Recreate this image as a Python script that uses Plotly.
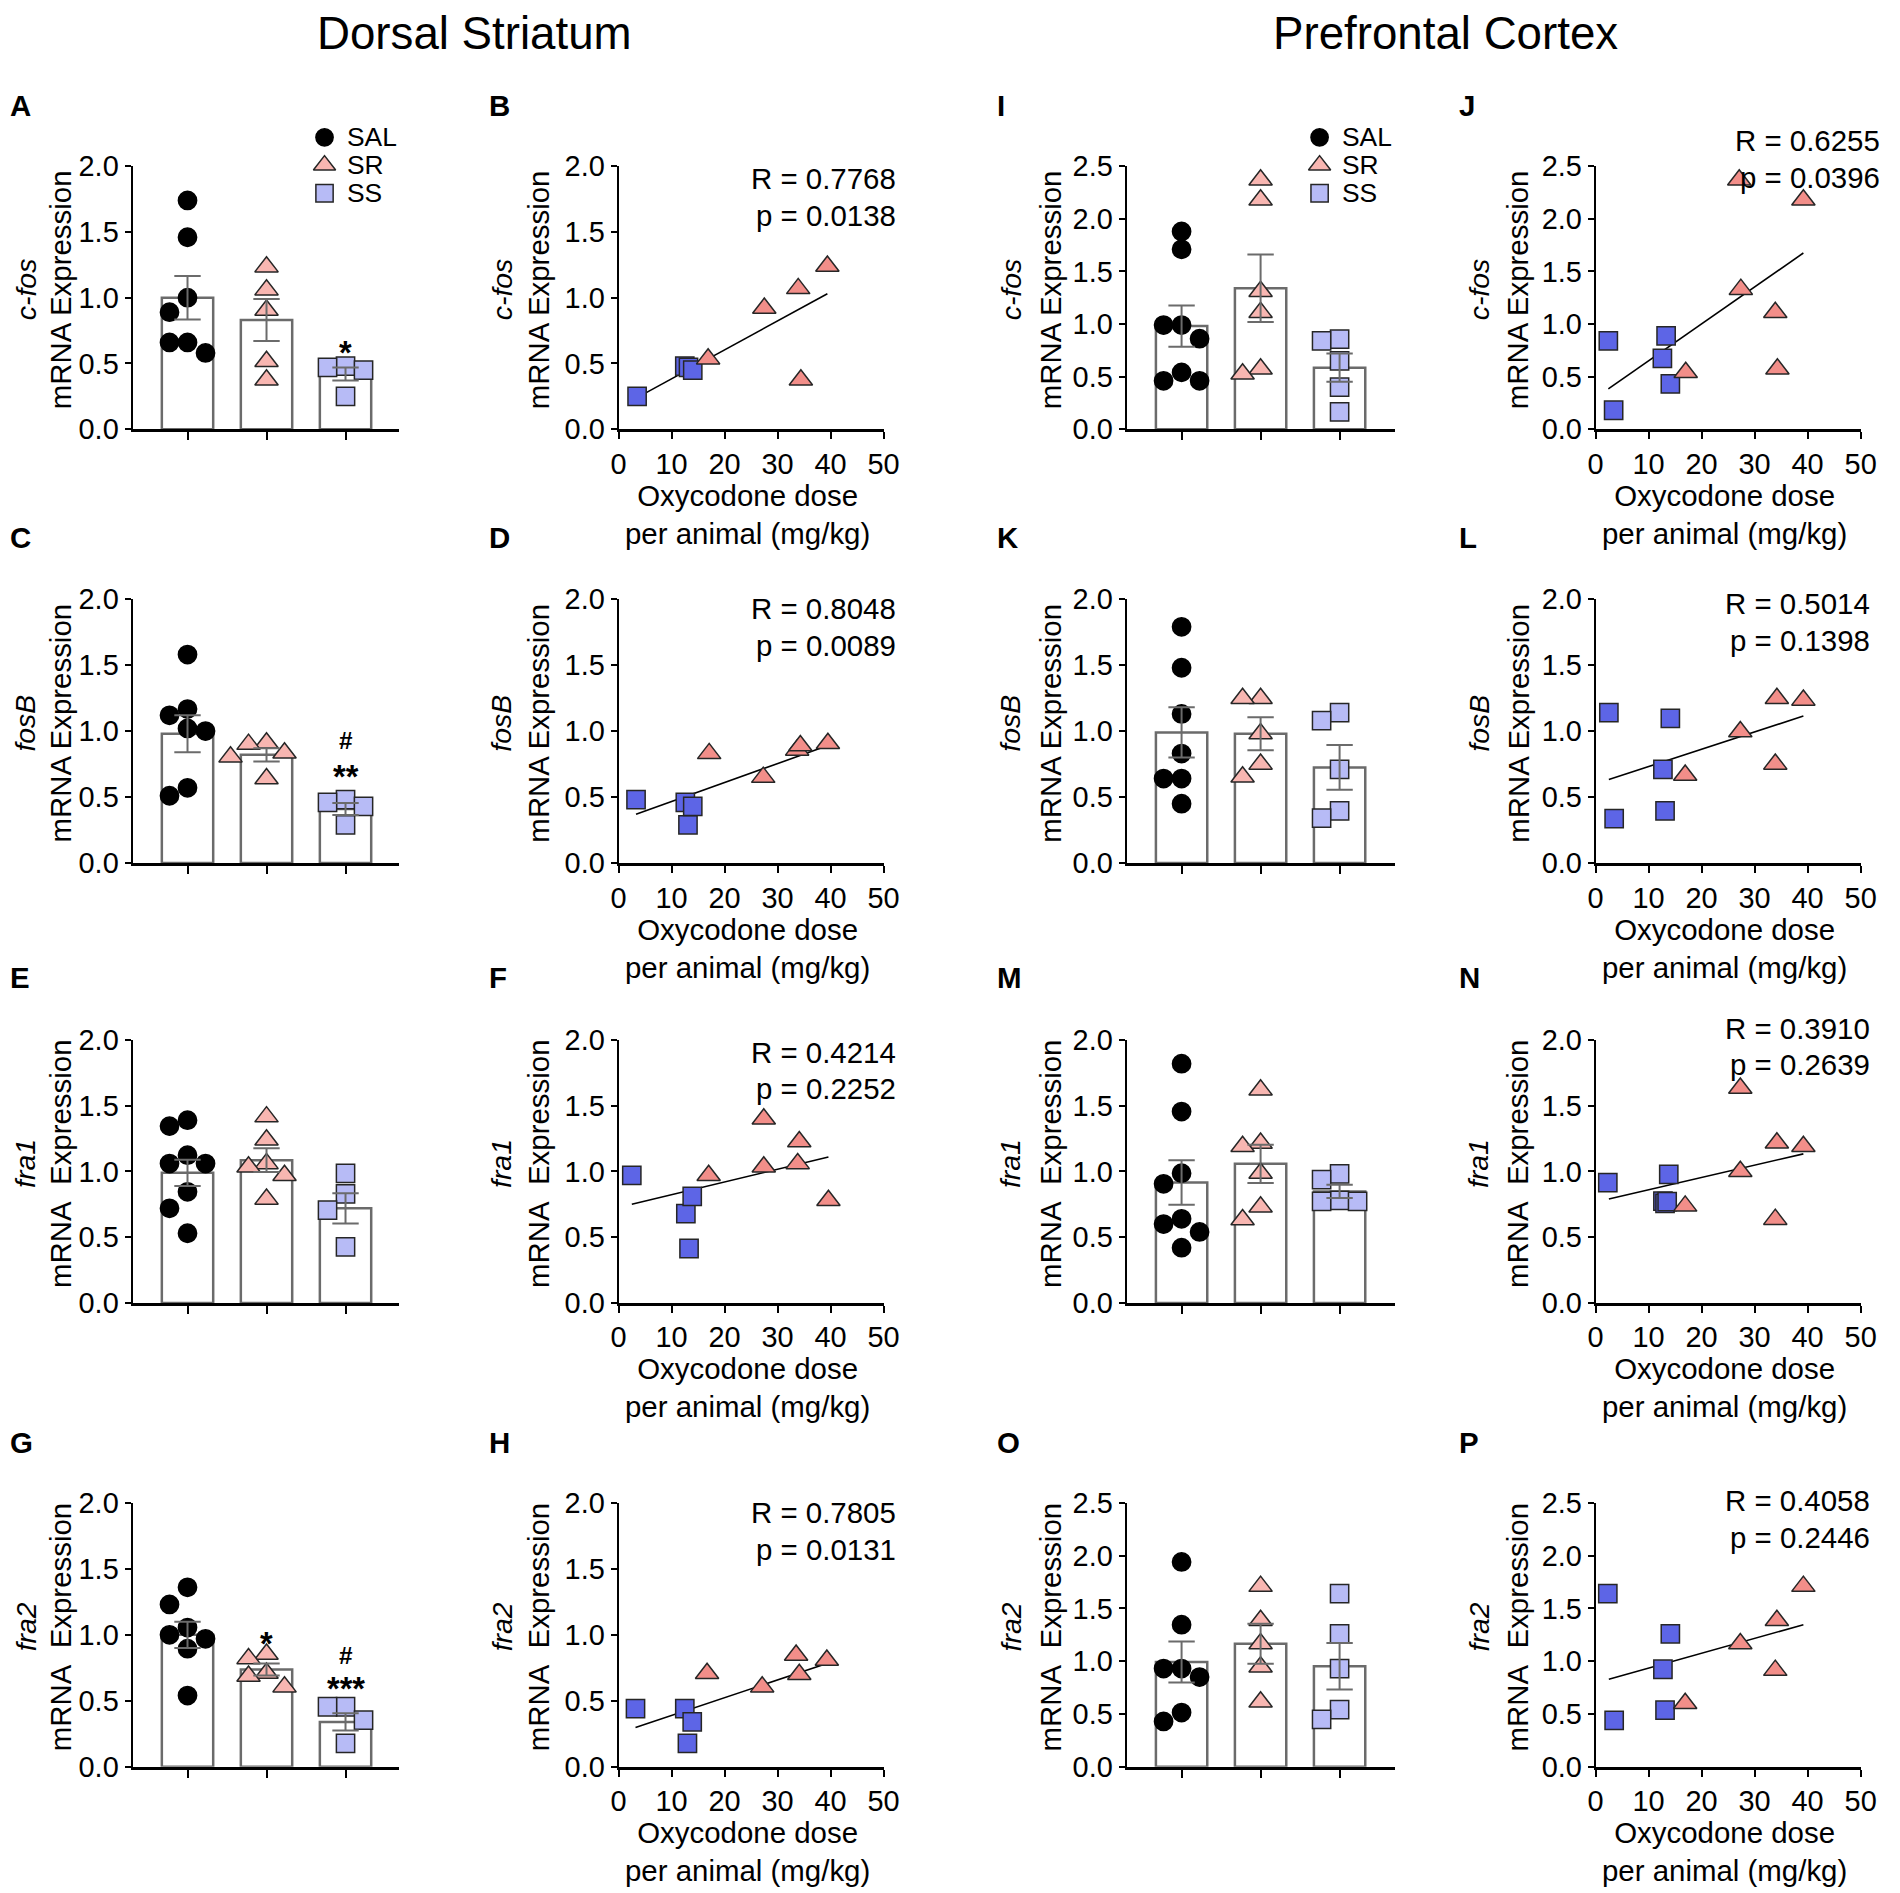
import plotly.graph_objects as go

W, H = 1900, 1893
FONT = "Liberation Sans, Arial, Helvetica, sans-serif"

# ------------------------------------------------------------------ DATA
groups = ["SAL", "SR", "SS"]
genes = ["c-fos", "fosB", "fra1", "fra2"]
region_titles = ["Dorsal Striatum", "Prefrontal Cortex"]
panel_letters = ["A", "B", "I", "J", "C", "D", "K", "L",
                 "E", "F", "M", "N", "G", "H", "O", "P"]
dose_ticks = [0, 10, 20, 30, 40, 50]

# ---- Dorsal striatum, group bars (A, C, E, G)
A_sal = [1.74, 1.46, 1.0, 0.89, 0.66, 0.66, 0.58]
A_sr = [1.235, 1.06, 0.905, 0.515, 0.375]
A_ss = [0.48, 0.47, 0.45, 0.25]
A_mean = [1.0, 0.83, 0.42]
A_sem = [0.165, 0.16, 0.05]

C_sal = [1.58, 1.167, 1.12, 1.02, 1.0, 0.57, 0.51]
C_sr = [0.91, 0.9, 0.835, 0.805, 0.64]
C_ss = [0.48, 0.46, 0.43, 0.29]
C_mean = [0.98, 0.82, 0.41]
C_sem = [0.14, 0.05, 0.045]

E_sal = [1.39, 1.345, 1.124, 1.06, 1.06, 0.845, 0.72, 0.53]
E_sr = [1.416, 1.24, 1.06, 1.035, 0.97, 0.79]
E_ss = [0.985, 0.83, 0.705, 0.426]
E_mean = [0.99, 1.086, 0.72]
E_sem = [0.1, 0.09, 0.115]

G_sal = [1.36, 1.23, 1.055, 1.0, 0.97, 0.895, 0.54]
G_sr = [0.854, 0.82, 0.71, 0.687, 0.606]
G_ss = [0.455, 0.455, 0.354, 0.177]
G_mean = [1.0, 0.737, 0.34]
G_sem = [0.1, 0.045, 0.065]

# ---- Prefrontal cortex, group bars (I, K, M, O)
I_sal = [1.88, 1.71, 0.99, 0.99, 0.86, 0.54, 0.46, 0.46]
I_sr = [2.37, 2.18, 1.31, 1.11, 0.573, 0.526]
I_ss = [0.856, 0.84, 0.65, 0.40, 0.164]
I_mean = [0.98, 1.34, 0.585]
I_sem = [0.195, 0.32, 0.135]

K_sal = [1.79, 1.48, 1.13, 0.83, 0.64, 0.64, 0.45]
K_sr = [1.248, 1.248, 0.98, 0.75, 0.653]
K_ss = [1.14, 1.08, 0.71, 0.395, 0.34]
K_mean = [0.99, 0.98, 0.725]
K_sem = [0.19, 0.125, 0.17]

M_sal = [1.82, 1.456, 0.987, 0.906, 0.64, 0.60, 0.54, 0.42]
M_sr = [1.62, 1.215, 1.19, 0.987, 0.73, 0.633]
M_ss = [0.982, 0.937, 0.78, 0.772, 0.772]
M_mean = [0.916, 1.058, 0.848]
M_sem = [0.17, 0.145, 0.05]

O_sal = [1.94, 1.346, 0.93, 0.93, 0.85, 0.514, 0.43]
O_sr = [1.71, 1.387, 1.166, 0.946, 0.615]
O_ss = [1.64, 1.26, 0.93, 0.542, 0.45]
O_mean = [0.993, 1.166, 0.952]
O_sem = [0.195, 0.19, 0.22]

# ---- Dose correlations, dorsal striatum (B, D, F, H)
B_ss_dose = [3.5, 12.5, 13.2, 14.0]
B_ss_expr = [0.25, 0.48, 0.47, 0.45]
B_sr_dose = [16.9, 27.5, 33.9, 34.4, 39.4]
B_sr_expr = [0.535, 0.92, 1.07, 0.375, 1.24]
B_fit_dose = [3.5, 39.4]
B_fit_expr = [0.24, 1.03]
B_stats = ["0.7768", "0.0138"]

D_ss_dose = [3.3, 12.6, 13.1, 14.0]
D_ss_expr = [0.48, 0.46, 0.29, 0.43]
D_sr_dose = [17.1, 27.3, 33.7, 34.3, 39.5]
D_sr_expr = [0.83, 0.65, 0.856, 0.89, 0.906]
D_fit_dose = [3.3, 39.5]
D_fit_expr = [0.37, 0.89]
D_stats = ["0.8048", "0.0089"]

F_ss_dose = [2.5, 12.7, 13.9, 13.3]
F_ss_expr = [0.97, 0.68, 0.81, 0.414]
F_sr_dose = [17.0, 27.4, 27.4, 34.1, 33.8, 39.6]
F_sr_expr = [0.97, 1.40, 1.035, 1.226, 1.06, 0.78]
F_fit_dose = [2.5, 39.6]
F_fit_expr = [0.75, 1.11]
F_stats = ["0.4214", "0.2252"]

H_ss_dose = [3.2, 12.5, 13.9, 13.0]
H_ss_expr = [0.44, 0.44, 0.34, 0.177]
H_sr_dose = [16.7, 27.1, 33.5, 34.1, 39.3]
H_sr_expr = [0.707, 0.606, 0.846, 0.70, 0.808]
H_fit_dose = [3.2, 39.3]
H_fit_expr = [0.298, 0.783]
H_stats = ["0.7805", "0.0131"]

# ---- Dose correlations, prefrontal cortex (J, L, N, P)
J_ss_dose = [2.4, 3.4, 12.6, 13.3, 14.1]
J_ss_expr = [0.84, 0.18, 0.674, 0.888, 0.43]
J_sr_dose = [17.0, 27.4, 27.1, 33.9, 34.3, 39.2]
J_sr_expr = [0.54, 1.33, 2.37, 1.11, 0.573, 2.18]
J_fit_dose = [2.4, 39.2]
J_fit_expr = [0.384, 1.675]
J_stats = ["0.6255", "0.0396"]

L_ss_dose = [2.5, 3.5, 12.7, 13.1, 14.1]
L_ss_expr = [1.14, 0.337, 0.71, 0.395, 1.096]
L_sr_dose = [16.9, 27.3, 34.2, 33.9, 39.2]
L_sr_expr = [0.666, 0.995, 1.248, 0.75, 1.235]
L_fit_dose = [2.5, 39.2]
L_fit_expr = [0.633, 1.114]
L_stats = ["0.5014", "0.1398"]

N_ss_dose = [2.3, 13.8, 12.7, 13.1, 13.5]
N_ss_expr = [0.915, 0.977, 0.775, 0.757, 0.77]
N_sr_dose = [16.9, 27.3, 27.3, 34.2, 33.9, 39.2]
N_sr_expr = [0.737, 1.634, 1.0, 1.217, 0.636, 1.19]
N_fit_dose = [2.5, 39.2]
N_fit_expr = [0.79, 1.134]
N_stats = ["0.3910", "0.2639"]

P_ss_dose = [2.3, 3.5, 12.7, 14.1, 13.1]
P_ss_expr = [1.64, 0.44, 0.924, 1.26, 0.536]
P_sr_dose = [16.9, 27.3, 34.2, 33.9, 39.2]
P_sr_expr = [0.6, 1.166, 1.387, 0.914, 1.71]
P_fit_dose = [2.5, 39.2]
P_fit_expr = [0.83, 1.346]
P_stats = ["0.4058", "0.2446"]

# significance marks (panel, group index, label, value height)
sig_panel = ["A", "C", "C", "G", "G", "G"]
sig_group = [2, 2, 2, 1, 2, 2]
sig_label = ["*", "#", "**", "*", "#", "***"]
sig_height = [0.65, 0.93, 0.72, 1.0, 0.845, 0.66]

# y-axis maxima per row for the PFC columns (DS always 2.0)
pfc_ymax = [2.5, 2.0, 2.0, 2.5]

# ------------------------------------------------------------------ STYLE
BLACK = "black"
GRAY = "#6b6b6b"
EDGE = "#262626"
SR_BAR, SR_SC = "#f8b6b1", "#f28e89"
SS_BAR, SS_SC = "#b7bbf6", "#5d65e6"

# The photographed page is offset/fitted slightly; target pixel positions
# (measured on the reference) are pre-compensated with this linear map.
AX, BX = 6.5, 0.9873           # horizontal: shown = AX + BX * page_x
AY, BY = 15.7, 0.98338         # vertical:   shown = AY + BY * page_y
K = 2.0 / (BX + BY)            # size compensation


def fx(t):
    return min(max((t - AX) / BX, 0.0), W - 1)


def fy(t):
    return min(max((t - AY) / BY, 0.0), H - 1)


def fs(v):
    return v * K


col_x = [(131, 397), (617, 882), (1125, 1393), (1594, 1859)]
row_y = [(166, 429), (599, 863), (1040, 1303), (1503, 1767)]
CAT_PX = 79.0           # target pixels per category on bar charts
BAR_W = 0.65
SWARM_STEP = 18.0
letter_x = [6, 485, 993, 1455]
letter_y = [105, 537, 977, 1443]
ytitle_off = [(-107, -72), (-117, -80), (-116, -76), (-117, -78)]
stat_right = {"B": 896, "D": 896, "F": 896, "H": 896,
              "J": 1880, "L": 1870, "N": 1870, "P": 1870}
stat_dy = {"B": 12, "D": 9, "F": 12, "H": 10, "J": -26, "L": 4, "N": -12, "P": -2}

bar_data = {
    "A": (A_sal, A_sr, A_ss, A_mean, A_sem),
    "C": (C_sal, C_sr, C_ss, C_mean, C_sem),
    "E": (E_sal, E_sr, E_ss, E_mean, E_sem),
    "G": (G_sal, G_sr, G_ss, G_mean, G_sem),
    "I": (I_sal, I_sr, I_ss, I_mean, I_sem),
    "K": (K_sal, K_sr, K_ss, K_mean, K_sem),
    "M": (M_sal, M_sr, M_ss, M_mean, M_sem),
    "O": (O_sal, O_sr, O_ss, O_mean, O_sem),
}
scatter_data = {
    "B": (B_ss_dose, B_ss_expr, B_sr_dose, B_sr_expr, B_fit_dose, B_fit_expr, B_stats),
    "D": (D_ss_dose, D_ss_expr, D_sr_dose, D_sr_expr, D_fit_dose, D_fit_expr, D_stats),
    "F": (F_ss_dose, F_ss_expr, F_sr_dose, F_sr_expr, F_fit_dose, F_fit_expr, F_stats),
    "H": (H_ss_dose, H_ss_expr, H_sr_dose, H_sr_expr, H_fit_dose, H_fit_expr, H_stats),
    "J": (J_ss_dose, J_ss_expr, J_sr_dose, J_sr_expr, J_fit_dose, J_fit_expr, J_stats),
    "L": (L_ss_dose, L_ss_expr, L_sr_dose, L_sr_expr, L_fit_dose, L_fit_expr, L_stats),
    "N": (N_ss_dose, N_ss_expr, N_sr_dose, N_sr_expr, N_fit_dose, N_fit_expr, N_stats),
    "P": (P_ss_dose, P_ss_expr, P_sr_dose, P_sr_expr, P_fit_dose, P_fit_expr, P_stats),
}


def swarm_offsets(vals, ppu, diam, step):
    """Column-style beeswarm: discrete pixel x-offsets so markers do not overlap."""
    placed, out = [], []
    for v in vals:
        yv = v * ppu
        k = 0
        found = None
        while found is None:
            cands = [0.0] if k == 0 else [-k * step, k * step]
            for s in cands:
                if all((s - ox) ** 2 + (yv - oy) ** 2 >= (diam - 0.5) ** 2 for ox, oy in placed):
                    found = s
                    break
            k += 1
        placed.append((found, yv))
        out.append(found)
    return out


fig = go.Figure()
ann = []
TICKF = dict(family=FONT, size=fs(28.5), color=BLACK)
layout = dict(width=W, height=H, margin=dict(l=0, r=0, t=0, b=0),
              paper_bgcolor="white", plot_bgcolor="rgba(0,0,0,0)",
              showlegend=False, font=dict(family=FONT, size=fs(29), color=BLACK))


def add_text(text, x, y, size=29, xanchor="center", yanchor="middle", angle=0):
    ann.append(dict(text=text, x=fx(x) / W, y=1 - fy(y) / H, xref="paper", yref="paper",
                    xanchor=xanchor, yanchor=yanchor, textangle=angle,
                    showarrow=False, font=dict(family=FONT, size=fs(size), color=BLACK)))


sym = {"SAL": "circle", "SR": "triangle-up", "SS": "square"}
msize = {"SAL": 18, "SR": 20, "SS": 18}

for r in range(4):
    for c in range(4):
        n = r * 4 + c + 1
        letter = panel_letters[n - 1]
        sfx = "" if n == 1 else str(n)
        xref, yref = "x" + sfx, "y" + sfx
        x0, x1 = col_x[c]
        y0, y1 = row_y[r]
        ymax = 2.0 if c < 2 else pfc_ymax[r]
        ppu = (y1 - y0) / ymax
        layout["yaxis" + sfx] = dict(
            domain=[1 - fy(y1) / H, 1 - fy(y0) / H], anchor=xref, range=[0, ymax],
            tickvals=[i * 0.5 for i in range(int(ymax / 0.5) + 1)], tickformat=".1f",
            showline=True, linecolor=BLACK, linewidth=2, ticks="outside",
            ticklen=6, tickwidth=2, tickcolor=BLACK, showgrid=False,
            zeroline=False, tickfont=TICKF, fixedrange=True)
        if c in (0, 2):
            lo = -(55.0 / CAT_PX)
            hi = 2 + (x1 - x0 - 55.0 - 2 * CAT_PX) / CAT_PX
            layout["xaxis" + sfx] = dict(
                domain=[fx(x0) / W, fx(x1) / W], anchor=yref,
                range=[lo, hi], tickvals=[0, 1, 2],
                showticklabels=False, showline=True, linecolor=BLACK,
                linewidth=3, ticks="outside", ticklen=8, tickwidth=2,
                tickcolor=BLACK, showgrid=False, zeroline=False, fixedrange=True)
            sal, sr, ss, mean, sem = bar_data[letter]
            fig.add_trace(go.Bar(x=[0, 1, 2], y=mean, width=BAR_W,
                                 marker=dict(color="white", line=dict(color=GRAY, width=2.5)),
                                 xaxis=xref, yaxis=yref, hoverinfo="skip"))
            for gi, (g, vals) in enumerate(zip(groups, [sal, sr, ss])):
                offs = swarm_offsets(vals, ppu, 18, SWARM_STEP)
                fill = {"SAL": BLACK, "SR": SR_BAR, "SS": SS_BAR}[g]
                fig.add_trace(go.Scatter(
                    x=[gi + o / CAT_PX for o in offs], y=vals, mode="markers",
                    marker=dict(symbol=sym[g], size=fs(msize[g]), color=fill,
                                line=dict(color=EDGE if g != "SAL" else BLACK, width=1.5)),
                    cliponaxis=False, xaxis=xref, yaxis=yref, hoverinfo="skip"))
            fig.add_trace(go.Scatter(
                x=[0, 1, 2], y=mean, mode="markers",
                marker=dict(size=1, color="rgba(0,0,0,0)"),
                error_y=dict(type="data", array=sem, color=GRAY, thickness=2, width=fs(13)),
                cliponaxis=False, xaxis=xref, yaxis=yref, hoverinfo="skip"))
        else:
            layout["xaxis" + sfx] = dict(
                domain=[fx(x0) / W, fx(x1) / W], anchor=yref, range=[0, 50],
                tickvals=dose_ticks, showline=True, linecolor=BLACK, linewidth=2.5,
                ticks="outside", ticklen=7, tickwidth=2, tickcolor=BLACK,
                showgrid=False, zeroline=False, tickfont=TICKF, fixedrange=True)
            ssx, ssy, srx, sry, fxd, fyd, stats = scatter_data[letter]
            fig.add_trace(go.Scatter(x=fxd, y=fyd, mode="lines",
                                     line=dict(color=BLACK, width=1.6),
                                     xaxis=xref, yaxis=yref, hoverinfo="skip"))
            fig.add_trace(go.Scatter(x=ssx, y=ssy, mode="markers",
                                     marker=dict(symbol="square", size=fs(18), color=SS_SC,
                                                 line=dict(color=EDGE, width=1.5)),
                                     cliponaxis=False, xaxis=xref, yaxis=yref, hoverinfo="skip"))
            fig.add_trace(go.Scatter(x=srx, y=sry, mode="markers",
                                     marker=dict(symbol="triangle-up", size=fs(20), color=SR_SC,
                                                 line=dict(color=EDGE, width=1.5)),
                                     cliponaxis=False, xaxis=xref, yaxis=yref, hoverinfo="skip"))
            ry = y0 + stat_dy[letter]
            add_text("R = " + stats[0], stat_right[letter], ry, xanchor="right")
            add_text("p = " + stats[1], stat_right[letter], ry + 37, xanchor="right")
            add_text("Oxycodone dose<br>per animal (mg/kg)", (x0 + x1) / 2 - 4, y1 + 85)

        # y-axis titles
        gcx = x0 + ytitle_off[c][0]
        mcx = x0 + ytitle_off[c][1]
        cy = (y0 + y1) / 2 - 8
        mtxt = "mRNA Expression" if r < 2 else "mRNA\u00a0\u00a0Expression"
        add_text("<i>" + genes[r] + "</i>", gcx, cy, size=28, angle=-90)
        add_text(mtxt, mcx, cy, angle=-90)
        add_text("<b>" + letter + "</b>", letter_x[c], letter_y[r], size=29, xanchor="left")

# significance marks
for pl, gi, lab, hv in zip(sig_panel, sig_group, sig_label, sig_height):
    n = panel_letters.index(pl) + 1
    sfx = "" if n == 1 else str(n)
    star = lab.startswith("*")
    ann.append(dict(text="<b>" + lab + "</b>", x=gi, y=hv, xref="x" + sfx, yref="y" + sfx,
                    showarrow=False, xanchor="center", yanchor="middle",
                    yshift=-9 if star else 0,
                    font=dict(family=FONT, size=fs(32 if star else 24), color=BLACK)))

# column titles
add_text(region_titles[0], 473, 33, size=45)
add_text(region_titles[1], 1444, 33, size=45)

# legends (overlay axis in target pixel units)
layout["xaxis17"] = dict(domain=[0, 1], range=[AX, AX + BX * W],
                         visible=False, fixedrange=True)
layout["yaxis17"] = dict(domain=[0, 1], range=[AY + BY * H, AY],
                         visible=False, fixedrange=True)
leg_fill = {"SAL": BLACK, "SR": SR_BAR, "SS": SS_BAR}
for lx in (323, 1318):
    for k, g in enumerate(groups):
        ly = 137 + 28 * k
        fig.add_trace(go.Scatter(x=[lx], y=[ly], mode="markers",
                                 marker=dict(symbol=sym[g], size=fs(msize[g] - 1), color=leg_fill[g],
                                             line=dict(color=EDGE if g != "SAL" else BLACK, width=1.5)),
                                 cliponaxis=False, xaxis="x17", yaxis="y17", hoverinfo="skip"))
        add_text(g, lx + 20, ly, size=26, xanchor="left")

layout["annotations"] = ann
fig.update_layout(**layout)
fig.write_html("out.html", config={"displayModeBar": False},
               post_script="document.body.style.margin='0';document.body.style.overflow='hidden';")
